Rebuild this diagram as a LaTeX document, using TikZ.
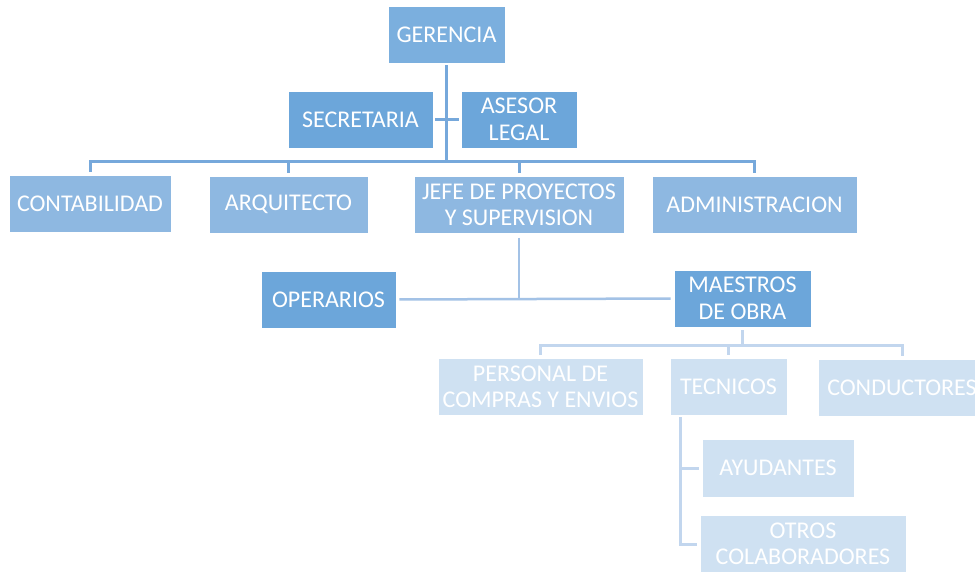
\documentclass[tikz,border=0pt]{standalone}
\usepackage{fontspec}
\setmainfont{Carlito}
\definecolor{cTop}{HTML}{7BAFDE}
\definecolor{cDark}{HTML}{6CA6DA}
\definecolor{cMid}{HTML}{8EB8E1}
\definecolor{cLight}{HTML}{CFE1F2}
\definecolor{lTop}{HTML}{76A8DB}
\definecolor{lMid}{HTML}{A3C2E6}
\definecolor{lLow}{HTML}{C2D6EE}
\tikzset{
  orgbox/.style={draw=white, line width=0.8pt, text=white, inner sep=0pt, align=center,
    minimum height=57, font=\fontsize{24}{26.5}\selectfont},
  topbox/.style={orgbox, fill=cTop},
  darkbox/.style={orgbox, fill=cDark},
  midbox/.style={orgbox, fill=cMid},
  lightbox/.style={orgbox, fill=cLight},
  topline/.style={draw=lTop, line width=3pt},
  midline/.style={draw=lMid, line width=2.5pt},
  lowline/.style={draw=lLow, line width=3pt},
}
\begin{document}
\begin{tikzpicture}[x=1pt,y=-1pt]
\useasboundingbox (0,0) rectangle (975,571);
\clip (0,0) rectangle (975,571);
\fill[white] (0,0) rectangle (975,571);
% nodes
\node[topbox, minimum width=117] (G) at (446.5,34.5) {GERENCIA};
\node[darkbox, minimum width=145] (SEC) at (360.5,119.5) {SECRETARIA};
\node[darkbox, minimum width=116] (ASE) at (519,119.5) {ASESOR\\LEGAL};
\node[midbox, minimum width=162] (CONT) at (90,203.5) {CONTABILIDAD};
\node[midbox, minimum width=159] (ARQ) at (288.5,204.5) {ARQUITECTO};
\node[midbox, minimum width=210] (JEFE) at (519,205) {JEFE DE PROYECTOS\\Y SUPERVISION};
\node[midbox, minimum width=205] (ADM) at (754.5,205) {ADMINISTRACION};
\node[darkbox, minimum width=135] (OP) at (328.5,299.5) {OPERARIOS};
\node[darkbox, minimum width=137] (MA) at (742.5,298.5) {MAESTROS\\DE OBRA};
\node[lightbox, minimum width=205] (PER) at (540.5,387) {PERSONAL DE\\COMPRAS Y ENVIOS};
\node[lightbox, minimum width=117] (TEC) at (728.5,386.5) {TECNICOS};
\node[lightbox, minimum width=168] (CON) at (902,387.5) {CONDUCTORES};
\node[lightbox, minimum width=152, minimum height=58] (AY) at (778,468) {AYUDANTES};
\node[lightbox, minimum width=206, minimum height=58] (OT) at (803,544) {OTROS\\COLABORADORES};
% coordinates
\coordinate (bar) at (0,161.5);
\coordinate (lbar) at (0,345.5);
% top level
\draw[topline, shorten <=2pt] (G.south) -- (G.south |- bar);
\draw[topline, shorten <=2pt, shorten >=2pt] (SEC.east) -- (ASE.west);
\draw[topline, shorten <=3pt, shorten >=3pt] (CONT.north) |- (ADM.north |- bar) -- (ADM.north);
\draw[topline, shorten <=3pt] (ARQ.north) -- (ARQ.north |- bar);
\draw[topline, shorten <=3pt] (JEFE.north) -- (JEFE.north |- bar);
% jefe level
\draw[midline, shorten <=4pt] (JEFE.south) -- (JEFE.south |- OP.east);
\draw[midline, shorten <=3pt, shorten >=3pt] (OP.east) -- (MA.west);
% maestros level
\draw[lowline, shorten <=3pt] (MA.south) -- (MA.south |- lbar);
\draw[lowline, shorten <=3pt, shorten >=3pt] (PER.north) |- (CON.north |- lbar) -- (CON.north);
\draw[lowline, shorten <=3pt] (TEC.north) -- (TEC.north |- lbar);
% tecnicos branch
\coordinate (tb) at ([xshift=11, yshift=-2]TEC.south west);
\draw[lowline, shorten >=3pt] (tb) |- (AY.west);
\draw[lowline, shorten >=3pt] (tb) |- (OT.west);
\end{tikzpicture}
\end{document}
